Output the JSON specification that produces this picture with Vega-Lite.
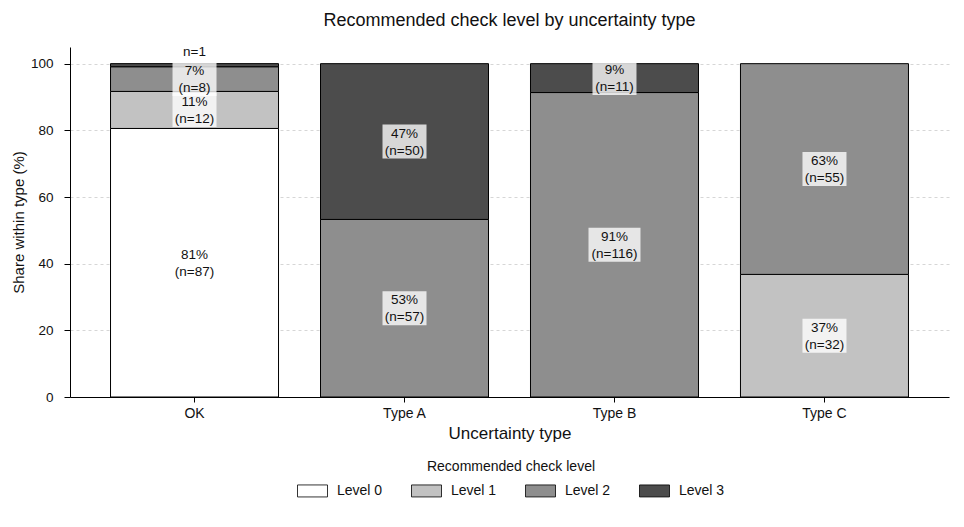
{
  "$schema": "https://vega.github.io/schema/vega-lite/v6.json",
  "autosize": {"type": "none"},
  "width": 879,
  "height": 350,
  "padding": {"left": 70, "top": 47, "right": 15, "bottom": 130},
  "background": "white",
  "title": {
    "text": "Recommended check level by uncertainty type",
    "fontSize": 18,
    "font": "Liberation Sans",
    "fontWeight": "normal",
    "color": "#111",
    "anchor": "middle",
    "offset": 15
  },
  "config": {
    "font": "Liberation Sans",
    "view": {"stroke": null},
    "axis": {
      "labelFont": "Liberation Sans",
      "titleFont": "Liberation Sans",
      "labelColor": "#111",
      "titleColor": "#111",
      "titleFontWeight": "normal",
      "domainColor": "#000",
      "tickColor": "#000",
      "domainWidth": 1,
      "tickWidth": 1
    },
    "legend": {
      "labelFont": "Liberation Sans",
      "titleFont": "Liberation Sans"
    }
  },
  "data": {
    "values": [
      {"type": "OK", "level": "Level 0", "n": 87, "share": 80.56, "label": "81%\n(n=87)"},
      {"type": "OK", "level": "Level 1", "n": 12, "share": 11.11, "label": "11%\n(n=12)"},
      {"type": "OK", "level": "Level 2", "n": 8, "share": 7.41, "label": "7%\n(n=8)"},
      {"type": "OK", "level": "Level 3", "n": 1, "share": 0.93, "label": "n=1"},
      {"type": "Type A", "level": "Level 2", "n": 57, "share": 53.27, "label": "53%\n(n=57)"},
      {"type": "Type A", "level": "Level 3", "n": 50, "share": 46.73, "label": "47%\n(n=50)"},
      {"type": "Type B", "level": "Level 2", "n": 116, "share": 91.34, "label": "91%\n(n=116)"},
      {"type": "Type B", "level": "Level 3", "n": 11, "share": 8.66, "label": "9%\n(n=11)"},
      {"type": "Type C", "level": "Level 1", "n": 32, "share": 36.78, "label": "37%\n(n=32)"},
      {"type": "Type C", "level": "Level 2", "n": 55, "share": 63.22, "label": "63%\n(n=55)"}
    ]
  },
  "transform": [
    {"stack": "share", "groupby": ["type"], "sort": [{"field": "level", "order": "ascending"}], "as": ["y0", "y1"]},
    {"calculate": "(datum.y0 + datum.y1) / 2", "as": "mid"}
  ],
  "encoding": {
    "x": {
      "field": "type",
      "type": "nominal",
      "sort": ["OK", "Type A", "Type B", "Type C"],
      "scale": {"paddingInner": 0.2, "paddingOuter": 0.193},
      "axis": {
        "title": "Uncertainty type",
        "titleFontSize": 17,
        "titlePadding": 5,
        "labelFontSize": 14,
        "labelAngle": 0,
        "labelPadding": 4,
        "tickSize": 5,
        "grid": false
      }
    }
  },
  "layer": [
    {
      "mark": {"type": "bar", "stroke": "#000", "strokeWidth": 1, "opacity": 1},
      "encoding": {
        "y": {
          "field": "y0",
          "type": "quantitative",
          "scale": {"domain": [0, 105], "nice": false},
          "axis": {
            "title": "Share within type (%)",
            "titleFontSize": 15,
            "titlePadding": 4,
            "labelFontSize": 13.5,
            "values": [0, 20, 40, 60, 80, 100],
            "tickSize": 6,
            "labelPadding": 11,
            "grid": true,
            "gridColor": "#cccccc",
            "gridDash": [3, 3],
            "gridWidth": 0.8
          }
        },
        "y2": {"field": "y1"},
        "fill": {
          "field": "level",
          "type": "nominal",
          "scale": {
            "domain": ["Level 0", "Level 1", "Level 2", "Level 3"],
            "range": ["#ffffff", "#c2c2c2", "#8e8e8e", "#4c4c4c"]
          },
          "legend": {
            "title": "Recommended check level",
            "orient": "none",
            "legendX": 227,
            "legendY": 413,
            "direction": "horizontal",
            "titleAnchor": "middle",
            "titleOrient": "top",
            "titleFontSize": 14,
            "titleFontWeight": "normal",
            "titleColor": "#111",
            "titlePadding": 1,
            "labelFontSize": 14,
            "labelColor": "#111",
            "labelOffset": 9,
            "columnPadding": 26,
            "symbolType": "M-1,-0.4H1V0.4H-1Z",
            "symbolSize": 900,
            "symbolStrokeColor": "#000",
            "symbolStrokeWidth": 0.8,
            "symbolOpacity": 1
          }
        }
      }
    },
    {
      "transform": [{"filter": "datum.share >= 3 && datum.n < 100"}],
      "mark": {"type": "bar", "fill": "white", "opacity": 0.78, "width": 44, "yOffset": -17, "y2Offset": 17},
      "encoding": {
        "y": {"field": "mid", "type": "quantitative"},
        "y2": {"field": "mid"}
      }
    },
    {
      "transform": [{"filter": "datum.share >= 3 && datum.n >= 100"}],
      "mark": {"type": "bar", "fill": "white", "opacity": 0.78, "width": 52, "yOffset": -17, "y2Offset": 17},
      "encoding": {
        "y": {"field": "mid", "type": "quantitative"},
        "y2": {"field": "mid"}
      }
    },
    {
      "transform": [{"filter": "datum.share >= 3"}],
      "mark": {"type": "text", "lineBreak": "\n", "fontSize": 13.5, "lineHeight": 17, "baseline": "middle", "align": "center", "dy": -8, "color": "#111", "font": "Liberation Sans"},
      "encoding": {
        "y": {"field": "mid", "type": "quantitative"},
        "text": {"field": "label"}
      }
    },
    {
      "transform": [{"filter": "datum.share < 3"}],
      "mark": {"type": "text", "fontSize": 13.5, "baseline": "bottom", "align": "center", "dy": -5, "color": "#111", "font": "Liberation Sans"},
      "encoding": {
        "y": {"field": "y1", "type": "quantitative"},
        "text": {"field": "label"}
      }
    }
  ]
}
